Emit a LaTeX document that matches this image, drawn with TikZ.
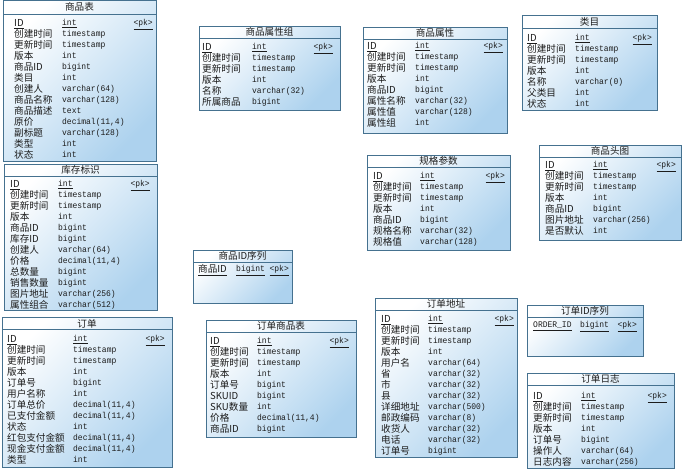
\documentclass[tikz,border=0pt]{standalone}
\usepackage{fontspec}
\usepackage{array}
\newfontfamily\cjk{Noto Sans CJK SC}
\setmonofont[FakeStretch=0.93]{Liberation Mono}
\newcommand\cjkf{\cjk\fontsize{9.6}{11}\selectfont}
\newcommand\monof{\ttfamily\fontsize{8.6}{11}\selectfont}
\newsavebox\typbox
\newcolumntype{T}{>{\begin{lrbox}{\typbox}\monof}l<{\end{lrbox}\rule[-2.6pt]{0pt}{11pt}\raisebox{1pt}{\usebox\typbox}}}
\renewcommand\arraystretch{0}
\definecolor{tbline}{HTML}{45718F}
\definecolor{tbfill}{HTML}{ADD2EE}
\definecolor{txt}{HTML}{1C1C1C}
\tikzset{
  tbl/.style={draw=tbline,line width=0.8pt,top color=white,bottom color=tbfill,shading angle=45},
  sep/.style={draw=tbline,line width=0.8pt},
  ttl/.style={font=\cjkf,text=txt,inner sep=0pt},
  fld/.style={font=\cjkf,text=txt,inner sep=0pt,anchor=base west},
  pk/.style={font=\monof,text=txt,inner sep=0pt,anchor=base east}
}
\begin{document}
\begin{tikzpicture}[x=1pt,y=-1pt]
\useasboundingbox (0,0) rectangle (686,471);
%Bang 1
\draw[tbl] (3,0.5) rectangle (156,161);
\draw[sep] (3,14) -- (156,14);
\node[ttl] (spbT) at (79.5,7) {商品表};
\node[fld] (spbF) at (14,26.6) {\begin{tabular}[t]{@{}p{48pt}@{}T@{}}
\underline{ID} & \underline{int}\\
创建时间 & timestamp\\
更新时间 & timestamp\\
版本 & int\\
商品ID & bigint\\
类目 & int\\
创建人 & varchar(64)\\
商品名称 & varchar(128)\\
商品描述 & text\\
原价 & decimal(11,4)\\
副标题 & varchar(128)\\
类型 & int\\
状态 & int
\end{tabular}};
\node[pk] (spbK) at (153,25.6) {\underline{<pk>}};
%Bang 2
\draw[tbl] (4,164) rectangle (157,310);
\draw[sep] (4,176) -- (157,176);
\node[ttl] (kcbsT) at (80.5,170) {库存标识};
\node[fld] (kcbsF) at (10,187.6) {\begin{tabular}[t]{@{}p{48pt}@{}T@{}}
\underline{ID} & \underline{int}\\
创建时间 & timestamp\\
更新时间 & timestamp\\
版本 & int\\
商品ID & bigint\\
库存ID & bigint\\
创建人 & varchar(64)\\
价格 & decimal(11,4)\\
总数量 & bigint\\
销售数量 & bigint\\
图片地址 & varchar(256)\\
属性组合 & varchar(512)
\end{tabular}};
\node[pk] (kcbsK) at (150,186.6) {\underline{<pk>}};
%Bang 3
\draw[tbl] (2,317) rectangle (172,467);
\draw[sep] (2,329) -- (172,329);
\node[ttl] (ddT) at (87,323.5) {订单};
\node[fld] (ddF) at (7,342.6) {\begin{tabular}[t]{@{}p{66pt}@{}T@{}}
\underline{ID} & \underline{int}\\
创建时间 & timestamp\\
更新时间 & timestamp\\
版本 & int\\
订单号 & bigint\\
用户名称 & int\\
订单总价 & decimal(11,4)\\
已支付金额 & decimal(11,4)\\
状态 & int\\
红包支付金额 & decimal(11,4)\\
现金支付金额 & decimal(11,4)\\
类型 & int
\end{tabular}};
\node[pk] (ddK) at (165,341.6) {\underline{<pk>}};
%Bang 4
\draw[tbl] (199,26) rectangle (340,110);
\draw[sep] (199,38) -- (340,38);
\node[ttl] (spsxzT) at (269.5,32) {商品属性组};
\node[fld] (spsxzF) at (202,50.6) {\begin{tabular}[t]{@{}p{50pt}@{}T@{}}
\underline{ID} & \underline{int}\\
创建时间 & timestamp\\
更新时间 & timestamp\\
版本 & int\\
名称 & varchar(32)\\
所属商品 & bigint
\end{tabular}};
\node[pk] (spsxzK) at (333,49.6) {\underline{<pk>}};
%Bang 5
\draw[tbl] (363,27) rectangle (507,133);
\draw[sep] (363,39) -- (507,39);
\node[ttl] (spsxT) at (435,33) {商品属性};
\node[fld] (spsxF) at (367,49.6) {\begin{tabular}[t]{@{}p{48pt}@{}T@{}}
\underline{ID} & \underline{int}\\
创建时间 & timestamp\\
更新时间 & timestamp\\
版本 & int\\
商品ID & bigint\\
属性名称 & varchar(32)\\
属性值 & varchar(128)\\
属性组 & int
\end{tabular}};
\node[pk] (spsxK) at (503,48.6) {\underline{<pk>}};
%Bang 6
\draw[tbl] (522,15) rectangle (657,110);
\draw[sep] (522,28) -- (657,28);
\node[ttl] (lmT) at (589.5,21.5) {类目};
\node[fld] (lmF) at (527,41.6) {\begin{tabular}[t]{@{}p{48pt}@{}T@{}}
\underline{ID} & \underline{int}\\
创建时间 & timestamp\\
更新时间 & timestamp\\
版本 & int\\
名称 & varchar(0)\\
父类目 & int\\
状态 & int
\end{tabular}};
\node[pk] (lmK) at (652,40.6) {\underline{<pk>}};
%Bang 7
\draw[tbl] (367,155) rectangle (510,250);
\draw[sep] (367,167) -- (510,167);
\node[ttl] (ggcsT) at (438.5,161) {规格参数};
\node[fld] (ggcsF) at (373,179.6) {\begin{tabular}[t]{@{}p{47pt}@{}T@{}}
\underline{ID} & \underline{int}\\
创建时间 & timestamp\\
更新时间 & timestamp\\
版本 & int\\
商品ID & bigint\\
规格名称 & varchar(32)\\
规格值 & varchar(128)
\end{tabular}};
\node[pk] (ggcsK) at (505,178.6) {\underline{<pk>}};
%Bang 8
\draw[tbl] (539,145) rectangle (681,240);
\draw[sep] (539,157) -- (681,157);
\node[ttl] (spytT) at (610,151) {商品头图};
\node[fld] (spytF) at (545,168.6) {\begin{tabular}[t]{@{}p{48pt}@{}T@{}}
\underline{ID} & \underline{int}\\
创建时间 & timestamp\\
更新时间 & timestamp\\
版本 & int\\
商品ID & bigint\\
图片地址 & varchar(256)\\
是否默认 & int
\end{tabular}};
\node[pk] (spytK) at (676,167.6) {\underline{<pk>}};
%Bang 9
\draw[tbl] (193,250) rectangle (292,303);
\draw[sep] (193,262) -- (292,262);
\node[ttl] (spidT) at (242.5,256) {商品ID序列};
\node[fld] (spidF) at (198,272.6) {\underline{商品ID}};
\node[fld,font=\monof] (spidY) at (236,271.6) {\underline{bigint}};
\node[pk] (spidK) at (289,271.6) {\underline{<pk>}};
%Bang 10
\draw[tbl] (206,320) rectangle (356,437);
\draw[sep] (206,332) -- (356,332);
\node[ttl] (ddspT) at (281,326) {订单商品表};
\node[fld] (ddspF) at (210,344.6) {\begin{tabular}[t]{@{}p{47pt}@{}T@{}}
\underline{ID} & \underline{int}\\
创建时间 & timestamp\\
更新时间 & timestamp\\
版本 & int\\
订单号 & bigint\\
SKUID & bigint\\
SKU数量 & int\\
价格 & decimal(11,4)\\
商品ID & bigint
\end{tabular}};
\node[pk] (ddspK) at (349,343.6) {\underline{<pk>}};
%Bang 11
\draw[tbl] (375,298) rectangle (517,457);
\draw[sep] (375,310) -- (517,310);
\node[ttl] (dddzT) at (446,304) {订单地址};
\node[fld] (dddzF) at (381,322.6) {\begin{tabular}[t]{@{}p{47pt}@{}T@{}}
\underline{ID} & \underline{int}\\
创建时间 & timestamp\\
更新时间 & timestamp\\
版本 & int\\
用户名 & varchar(64)\\
省 & varchar(32)\\
市 & varchar(32)\\
县 & varchar(32)\\
详细地址 & varchar(500)\\
邮政编码 & varchar(8)\\
收货人 & varchar(32)\\
电话 & varchar(32)\\
订单号 & bigint
\end{tabular}};
\node[pk] (dddzK) at (514,321.6) {\underline{<pk>}};
%Bang 12
\draw[tbl] (527,305) rectangle (643,356);
\draw[sep] (527,317) -- (643,317);
\node[ttl] (ddidT) at (585,311) {订单ID序列};
\node[fld,font=\monof] (ddidF) at (533,327.6) {\underline{ORDER\_ID}};
\node[fld,font=\monof] (ddidY) at (580,327.6) {\underline{bigint}};
\node[pk] (ddidK) at (637,327.6) {\underline{<pk>}};
%Bang 13
\draw[tbl] (527,373) rectangle (674,468);
\draw[sep] (527,385) -- (674,385);
\node[ttl] (ddrzT) at (600.5,379) {订单日志};
\node[fld] (ddrzF) at (533,399.6) {\begin{tabular}[t]{@{}p{48pt}@{}T@{}}
\underline{ID} & \underline{int}\\
创建时间 & timestamp\\
更新时间 & timestamp\\
版本 & int\\
订单号 & bigint\\
操作人 & varchar(64)\\
日志内容 & varchar(256)
\end{tabular}};
\node[pk] (ddrzK) at (667,398.6) {\underline{<pk>}};
\end{tikzpicture}
\end{document}
